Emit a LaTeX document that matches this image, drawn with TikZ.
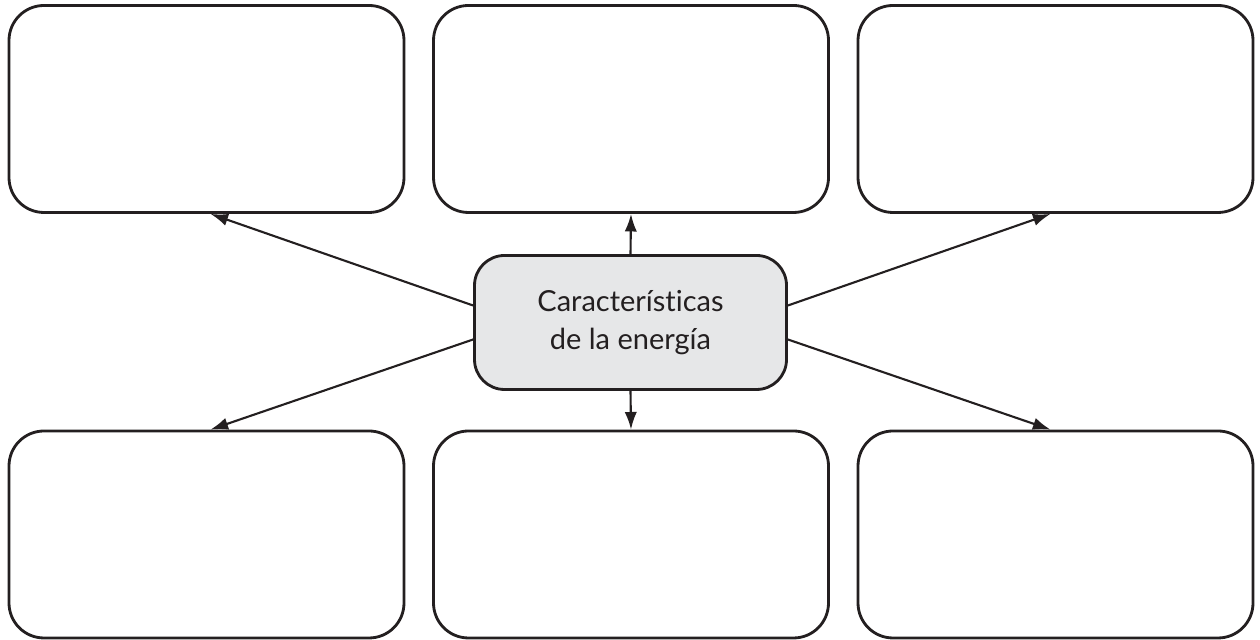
\documentclass[tikz,border=0pt]{standalone}
\usepackage{fontspec}
\setmainfont{Lato}[Ligatures={NoCommon}]
\definecolor{inkgray}{RGB}{35, 31, 32}
\definecolor{hubgray}{RGB}{230, 231, 232}
\usetikzlibrary{arrows.meta, positioning, calc}
\tikzset{
  emptybox/.style={draw=inkgray, line width=1.6pt, rounded corners=0.7cm, minimum width=7.9cm, minimum height=4.14cm},
  hubbox/.style={draw=inkgray, fill=hubgray, line width=1.6pt, rounded corners=0.6cm, minimum width=6.24cm, minimum height=2.68cm, align=center, text=inkgray, font=\fontsize{16.5}{22}\selectfont},
  link/.style={draw=inkgray, line width=1.2pt, -{Latex[length=10pt, width=7pt]}}
}

\begin{document}
\begin{tikzpicture}
  \useasboundingbox (0,0) rectangle (25.2,12.8);

  % central topic
  \node[hubbox] (hub) at (12.61, 6.35) {Características\\de la energía};

  % empty answer boxes, top row
  \node[emptybox] (topleft) at (4.13, 10.62) {};
  \node[emptybox] (topmid) at (12.62, 10.62) {};
  \node[emptybox] (topright) at (21.11, 10.62) {};

  % empty answer boxes, bottom row
  \node[emptybox] (botleft) at (4.13, 2.11) {};
  \node[emptybox] (botmid) at (12.62, 2.11) {};
  \node[emptybox] (botright) at (21.11, 2.11) {};

  % connectors
  \draw[link] ([yshift=0.34cm]hub.west) -- ([xshift=0.08cm]topleft.south);
  \draw[link] ([yshift=-0.34cm]hub.west) -- ([xshift=0.08cm]botleft.north);
  \draw[link] (hub.north) -- (topmid.south);
  \draw[link] (hub.south) -- (botmid.north);
  \draw[link] ([yshift=0.34cm]hub.east) -- ([xshift=-0.1cm]topright.south);
  \draw[link] ([yshift=-0.34cm]hub.east) -- ([xshift=-0.1cm]botright.north);
\end{tikzpicture}
\end{document}
